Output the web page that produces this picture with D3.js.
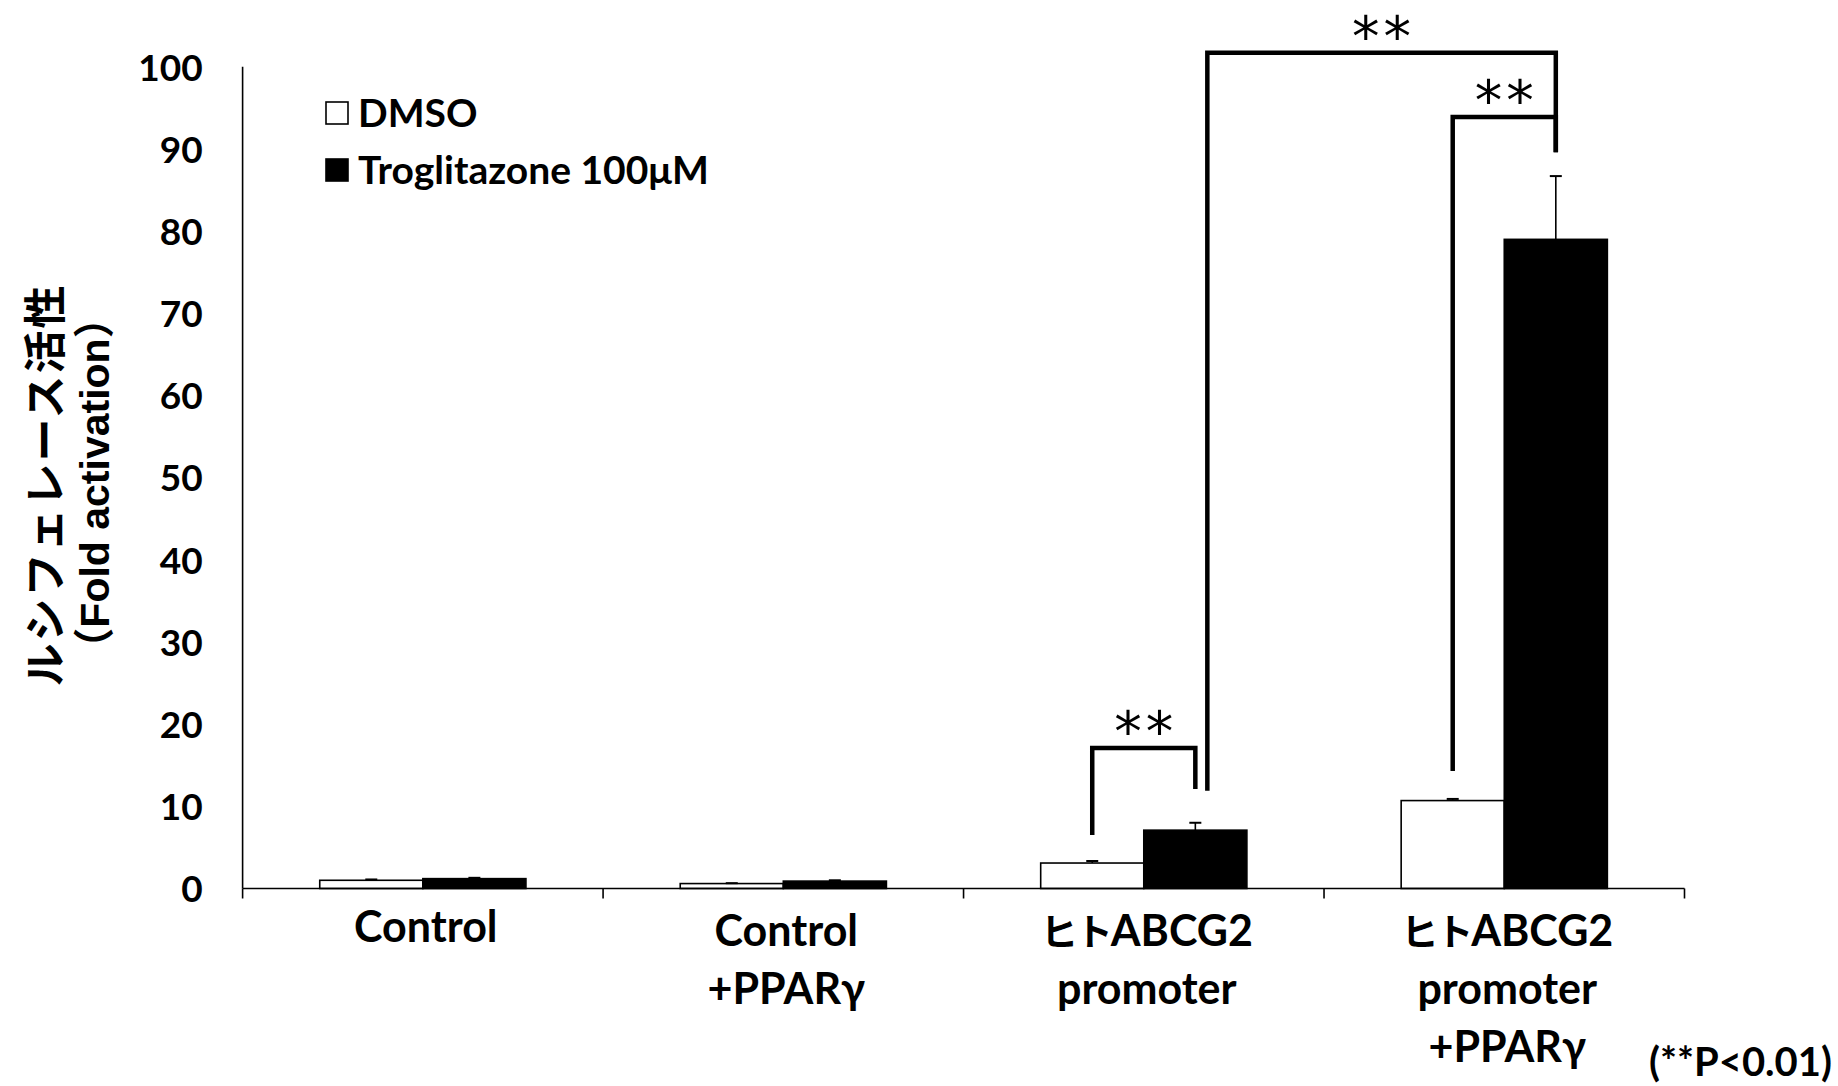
<!DOCTYPE html>
<html>
<head>
<meta charset="utf-8">
<script src="https://cdn.jsdelivr.net/npm/d3@7"></script>
<style>
  html, body { margin: 0; padding: 0; background: #fff; }
  svg { display: block; }
  .lbl { font-family: Lato, "Noto Sans CJK JP", sans-serif; font-weight: 700; fill: #000; }
</style>
</head>
<body>
<svg id="chart" width="1838" height="1086"></svg>
<script>
// Luciferase reporter activity (fold activation)
const categories = [
  ["Control"],
  ["Control", "+PPARγ"],
  ["ヒトABCG2", "promoter"],
  ["ヒトABCG2", "promoter", "+PPARγ"]
];
const categoryKeys = ["ctrl", "ctrlPPAR", "abcg2", "abcg2PPAR"];
const seriesNames = ["DMSO", "Troglitazone 100μM"];
const dmsoValues = [1.0, 0.6, 3.1, 10.7];
const dmsoErrors = [0.1, 0.05, 0.25, 0.2];
const trogValues = [1.2, 0.9, 7.1, 79.0];
const trogErrors = [0.1, 0.1, 0.9, 7.7];
const yTicks = [0, 10, 20, 30, 40, 50, 60, 70, 80, 90, 100];

// significance brackets: from bar (group, series) to bar, heights in data units
const brackets = [
  { from: [2, 0], to: [2, 1], top: 17.1, fromEnd: 6.5, toEnd: 12.1, label: "**" },
  { from: [3, 0], to: [3, 1], top: 93.9, fromEnd: 14.3, toEnd: 89.6, label: "**" },
  { from: [2, 1], to: [3, 1], top: 101.7, fromEnd: 11.9, toEnd: 89.6, label: "**", fromShift: 12 }
];

(function () {
const svg = d3.select("#chart");
const plotLeft = 242.6, plotRight = 1684.5, plotTop = 66.8, plotBottom = 888.5;

const y = d3.scaleLinear().domain([0, 100]).range([plotBottom, plotTop]);
const x0 = d3.scaleBand().domain(categoryKeys).range([plotLeft, plotRight]).padding(0);
const bw = x0.bandwidth();
const barW = bw * 0.286;
const x1 = d3.scaleBand().domain(seriesNames).range([bw / 2 - barW, bw / 2 + barW]).padding(0);

const data = categoryKeys.map((k, i) => ({
  key: k,
  bars: [
    { s: seriesNames[0], v: dmsoValues[i], e: dmsoErrors[i] },
    { s: seriesNames[1], v: trogValues[i], e: trogErrors[i] }
  ]
}));

const barCenter = (g, s) => x0(categoryKeys[g]) + x1(seriesNames[s]) + x1.bandwidth() / 2;

// bars
const groups = svg.append("g").selectAll("g").data(data).join("g")
  .attr("transform", d => `translate(${x0(d.key)},0)`);

groups.selectAll("rect").data(d => d.bars).join("rect")
  .attr("x", d => x1(d.s))
  .attr("y", d => y(d.v))
  .attr("width", x1.bandwidth())
  .attr("height", d => y(0) - y(d.v))
  .attr("fill", (d, i) => i === 0 ? "#fff" : "#000")
  .attr("stroke", "#000")
  .attr("stroke-width", 1.6);

// error bars (upper only)
const eb = groups.selectAll("g.err").data(d => d.bars).join("g").attr("class", "err");
eb.append("line")
  .attr("x1", d => x1(d.s) + x1.bandwidth() / 2)
  .attr("x2", d => x1(d.s) + x1.bandwidth() / 2)
  .attr("y1", d => y(d.v))
  .attr("y2", d => y(d.v + d.e))
  .attr("stroke", "#000").attr("stroke-width", 1.6);
eb.append("line")
  .attr("x1", d => x1(d.s) + x1.bandwidth() / 2 - 6)
  .attr("x2", d => x1(d.s) + x1.bandwidth() / 2 + 6)
  .attr("y1", d => y(d.v + d.e))
  .attr("y2", d => y(d.v + d.e))
  .attr("stroke", "#000").attr("stroke-width", 2);

// axes
const yAxis = d3.axisLeft(y).tickValues(yTicks).tickSize(0).tickPadding(40);
const gy = svg.append("g").attr("transform", `translate(${plotLeft},0)`).call(yAxis);
gy.select(".domain").attr("stroke", "#000").attr("stroke-width", 1.6).attr("d", `M0,${plotBottom}V${plotTop}`);
gy.selectAll("text").attr("class", "lbl").style("font-size", "37px").attr("dy", "0.36em");

const xAxisLine = svg.append("g");
xAxisLine.append("line")
  .attr("x1", plotLeft).attr("x2", plotRight).attr("y1", plotBottom).attr("y2", plotBottom)
  .attr("stroke", "#000").attr("stroke-width", 1.6);
const boundaries = categoryKeys.map(k => x0(k)).concat([plotRight]);
xAxisLine.selectAll("line.tk").data(boundaries).join("line").attr("class", "tk")
  .attr("x1", d => d).attr("x2", d => d)
  .attr("y1", plotBottom).attr("y2", plotBottom + 10)
  .attr("stroke", "#000").attr("stroke-width", 1.6);

// category labels (katakana set a little smaller, as in the narrow Latin face)
const lineGap = 58;
const catG = svg.append("g");
categories.forEach((lines, i) => {
  const cx = x0(categoryKeys[i]) + bw / 2 + 3;
  const t = catG.append("text").attr("class", "lbl")
    .attr("text-anchor", "middle").style("font-size", "43px");
  lines.forEach((ln, j) => {
    const line = t.append("tspan").attr("x", cx).attr("y", (i === 0 ? 942 : 946) + j * lineGap);
    const m = ln.match(/^([\u3040-\u30ff]+)(.*)$/);
    if (m) {
      line.append("tspan").style("font-size", "37px").style("letter-spacing", "-2px").text(m[1]);
      line.append("tspan").text(m[2]);
    } else {
      line.text(ln);
    }
  });
});

// y-axis title
const titleG = svg.append("g");
titleG.append("text")
  .attr("transform", "translate(42,485) rotate(-90)")
  .attr("text-anchor", "middle").attr("dominant-baseline", "central")
  .style("font-family", "'Noto Sans CJK JP', sans-serif").style("font-weight", 700)
  .style("font-size", "43px").style("letter-spacing", "2px")
  .text("ルシフェレース活性");
titleG.append("text")
  .attr("transform", "translate(95,483) rotate(-90)")
  .attr("text-anchor", "middle").attr("dominant-baseline", "central")
  .style("font-family", "'Liberation Sans', 'Noto Sans CJK JP', sans-serif").style("font-weight", 700)
  .style("font-size", "41px")
  .text("（Fold activation）");

// legend
const legend = svg.append("g");
seriesNames.forEach((name, i) => {
  const cy = 113 + i * 57;
  legend.append("rect")
    .attr("x", 326).attr("y", cy - 11).attr("width", 22).attr("height", 22)
    .attr("fill", i === 0 ? "#fff" : "#000").attr("stroke", "#000").attr("stroke-width", 1.6);
  legend.append("text").attr("class", "lbl")
    .attr("x", 358).attr("y", cy).attr("dy", "0.36em")
    .style("font-size", "39px").text(name);
});

// significance brackets
const sig = svg.append("g");
brackets.forEach(b => {
  const xa = barCenter(b.from[0], b.from[1]) + (b.fromShift || 0);
  const xb = barCenter(b.to[0], b.to[1]);
  const p = d3.path();
  p.moveTo(xa, y(b.fromEnd));
  p.lineTo(xa, y(b.top));
  p.lineTo(xb, y(b.top));
  p.lineTo(xb, y(b.toEnd));
  sig.append("path").attr("d", p.toString())
    .attr("fill", "none").attr("stroke", "#000").attr("stroke-width", 4.5)
    .attr("stroke-linejoin", "miter");
  sig.append("text")
    .attr("x", (xa + xb) / 2 + 2).attr("y", y(b.top) - 28 + 31)
    .attr("text-anchor", "middle")
    .style("font-family", "'DejaVu Sans', sans-serif").style("font-size", "55px")
    .style("letter-spacing", "4px")
    .text(b.label);
});

// footnote
svg.append("text").attr("class", "lbl")
  .attr("x", 1832).attr("y", 1062).attr("dy", "0.36em")
  .attr("text-anchor", "end").style("font-size", "40px")
  .text("(**P<0.01)");
})();
</script>
</body>
</html>
